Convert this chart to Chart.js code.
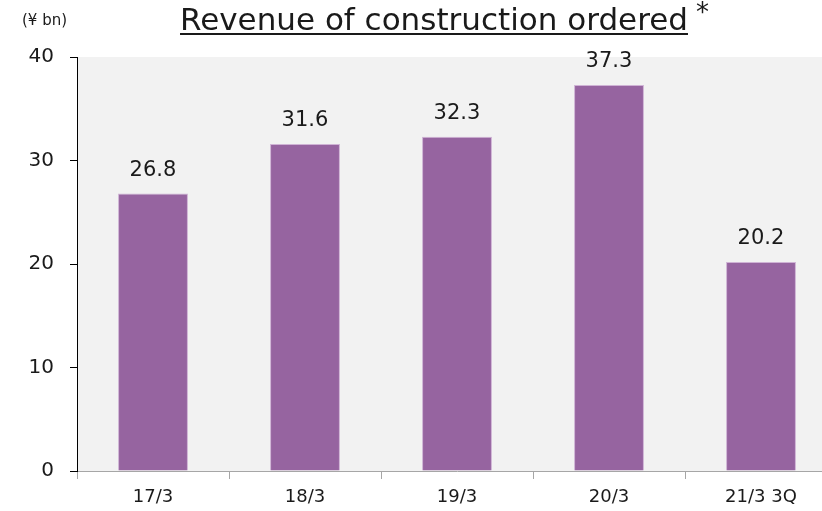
<!DOCTYPE html>
<html lang="en">
<head>
    <meta charset="UTF-8">
    <title>Revenue of construction ordered</title>
    <script src="https://cdn.jsdelivr.net/npm/chart.js@4.4.1/dist/chart.umd.min.js"></script>
    <style>
        html, body { margin: 0; padding: 0; overflow: hidden; background: #fff; }
        .chart-container {
            position: relative;
            width: 845px;
            height: 511px;
        }
    </style>
</head>
<body>
    <div class="chart-container">
        <canvas id="revenueChart"></canvas>
    </div>
    <script>
        // Data
        const periods = ['17/3', '18/3', '19/3', '20/3', '21/3 3Q'];
        const revenue = [26.8, 31.6, 32.3, 37.3, 20.2];
        const yTicks = [0, 10, 20, 30, 40];

        const FONT = '"DejaVu Sans", Verdana, sans-serif';
        const barColor = '#9664a0';

        // Grey plot background + title, unit and value labels
        const decorations = {
            id: 'decorations',
            beforeDraw(chart) {
                const { ctx, chartArea } = chart;
                ctx.save();
                ctx.fillStyle = '#f2f2f2';
                ctx.fillRect(chartArea.left, chartArea.top, chartArea.right - chartArea.left, chartArea.bottom - chartArea.top);
                ctx.restore();
            },
            afterDatasetsDraw(chart) {
                const { ctx } = chart;
                const meta = chart.getDatasetMeta(0);
                ctx.save();
                ctx.fillStyle = '#1a1a1a';
                ctx.font = '21px ' + FONT;
                ctx.textAlign = 'center';
                ctx.textBaseline = 'middle';
                meta.data.forEach((bar, i) => {
                    ctx.fillText(revenue[i].toFixed(1), bar.x, bar.y - 23);
                });
                ctx.restore();
            },
            afterDraw(chart) {
                const { ctx } = chart;
                ctx.save();
                // unit label
                ctx.fillStyle = '#1a1a1a';
                ctx.font = '15px ' + FONT;
                ctx.textAlign = 'left';
                ctx.textBaseline = 'middle';
                ctx.fillText('(\u00a5 bn)', 22, 21);

                // underlined title
                const title = 'Revenue of construction ordered';
                ctx.font = '31px ' + FONT;
                ctx.textAlign = 'center';
                ctx.textBaseline = 'alphabetic';
                const cx = 434;
                ctx.fillText(title, cx, 30);
                const w = ctx.measureText(title).width;
                ctx.fillRect(cx - w / 2, 33, w, 2);

                // asterisk
                ctx.font = '26px ' + FONT;
                ctx.textAlign = 'left';
                ctx.fillText('*', cx + w / 2 + 8, 21);
                ctx.restore();
            }
        };

        new Chart(document.getElementById('revenueChart'), {
            type: 'bar',
            data: {
                labels: periods,
                datasets: [{
                    data: revenue,
                    backgroundColor: barColor,
                    borderColor: '#cfb3d5',
                    borderWidth: 1,
                    borderSkipped: 'bottom',
                    categoryPercentage: 1,
                    barPercentage: 0.46
                }]
            },
            options: {
                responsive: true,
                maintainAspectRatio: false,
                animation: false,
                layout: { padding: { top: 57, right: 8, left: 0, bottom: 0 } },
                plugins: {
                    legend: { display: false },
                    tooltip: { enabled: false }
                },
                scales: {
                    x: {
                        afterFit(scale) { scale.height = 40; },
                        border: { color: '#a6a6a6', width: 1 },
                        grid: {
                            drawOnChartArea: false,
                            color: '#a6a6a6',
                            tickLength: 8,
                            offset: true
                        },
                        ticks: {
                            color: '#1a1a1a',
                            font: { family: FONT, size: 18 },
                            padding: 8
                        }
                    },
                    y: {
                        min: 0,
                        max: 40,
                        afterFit(scale) { scale.width = 77; },
                        afterBuildTicks(scale) {
                            scale.ticks = yTicks.map(v => ({ value: v }));
                        },
                        border: { color: '#000', width: 1 },
                        grid: {
                            drawOnChartArea: false,
                            color: '#000',
                            tickLength: 7
                        },
                        ticks: {
                            color: '#1a1a1a',
                            font: { family: FONT, size: 20 },
                            padding: 16
                        }
                    }
                }
            },
            plugins: [decorations]
        });
    </script>
</body>
</html>
